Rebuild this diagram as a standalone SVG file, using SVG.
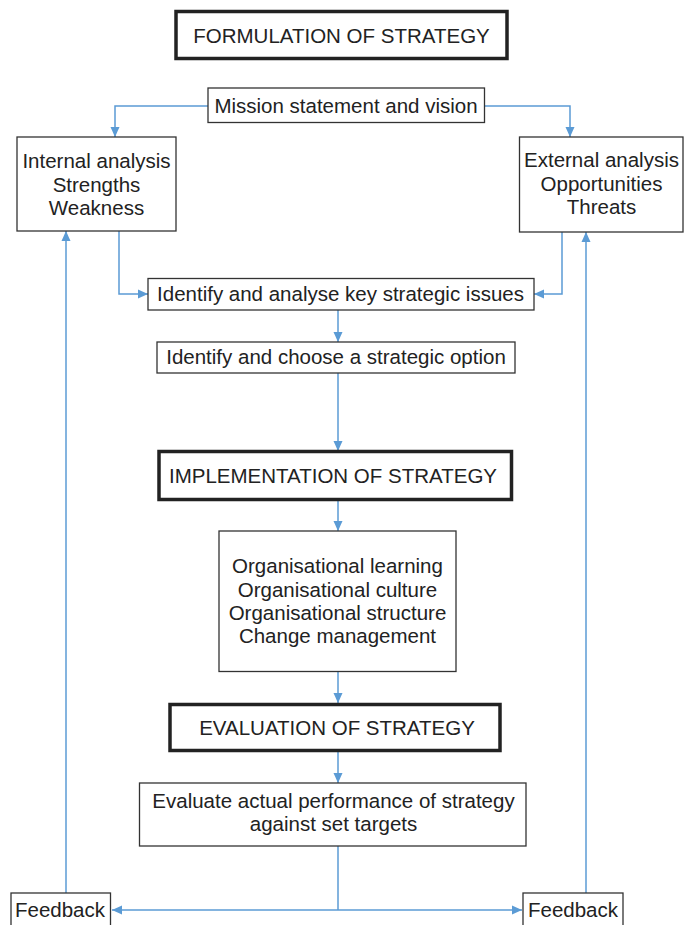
<svg xmlns="http://www.w3.org/2000/svg" width="684" height="925" viewBox="0 0 684 925">
<style>
.box{fill:#fff;stroke:#333;stroke-width:1.3}
.tbox{fill:#fff;stroke:#222;stroke-width:3.5}
text{font-family:"Liberation Sans",Arial,sans-serif;font-size:20.5px;fill:#222;text-anchor:middle}
.c{fill:none;stroke:#5b9bd5;stroke-width:1.5}
</style>
<defs>
<marker id="ah" markerUnits="userSpaceOnUse" markerWidth="10" markerHeight="10" refX="10" refY="5" orient="auto" viewBox="0 0 10 10">
<path d="M0,0.5 L10,5 L0,9.5 z" fill="#5b9bd5"/>
</marker>
</defs>
<rect width="684" height="925" fill="#fff"/>
<g id="connectors">
<path class="c" d="M208,106 H115 V137" marker-end="url(#ah)"/>
<path class="c" d="M484,106 H570 V137" marker-end="url(#ah)"/>
<path class="c" d="M119,231 V294 H148" marker-end="url(#ah)"/>
<path class="c" d="M562,232 V294 H534" marker-end="url(#ah)"/>
<path class="c" d="M338,310 V342" marker-end="url(#ah)"/>
<path class="c" d="M338,373 V451" marker-end="url(#ah)"/>
<path class="c" d="M338,501 V531" marker-end="url(#ah)"/>
<path class="c" d="M338,672 V703" marker-end="url(#ah)"/>
<path class="c" d="M338,752 V783" marker-end="url(#ah)"/>
<path class="c" d="M338,846 V910"/>
<path class="c" d="M338,910 H112" marker-end="url(#ah)"/>
<path class="c" d="M338,910 H522" marker-end="url(#ah)"/>
<path class="c" d="M66,893 V231" marker-end="url(#ah)"/>
<path class="c" d="M586,893 V232" marker-end="url(#ah)"/>
</g>
<g id="formulation">
<rect class="tbox" x="176" y="11.5" width="331" height="47"/>
<text x="341.5" y="43">FORMULATION OF STRATEGY</text>
</g>
<g id="mission">
<rect class="box" x="208" y="88" width="276.5" height="34.5"/>
<text x="346" y="113">Mission statement and vision</text>
</g>
<g id="internal">
<rect class="box" x="17" y="137" width="159" height="94"/>
<text x="96.5" y="168">Internal analysis</text>
<text x="96.5" y="191.5">Strengths</text>
<text x="96.5" y="215">Weakness</text>
</g>
<g id="external">
<rect class="box" x="519.5" y="137" width="163.5" height="95"/>
<text x="601.5" y="167">External analysis</text>
<text x="601.5" y="190.5">Opportunities</text>
<text x="601.5" y="214">Threats</text>
</g>
<g id="issues">
<rect class="box" x="148" y="278.5" width="386" height="31.5"/>
<text x="340.5" y="301">Identify and analyse key strategic issues</text>
</g>
<g id="option">
<rect class="box" x="157" y="342" width="358" height="31"/>
<text x="336" y="364">Identify and choose a strategic option</text>
</g>
<g id="implementation">
<rect class="tbox" x="159" y="451.5" width="352.5" height="48"/>
<text x="333" y="483">IMPLEMENTATION OF STRATEGY</text>
</g>
<g id="organisation">
<rect class="box" x="219" y="531" width="237" height="140.5"/>
<text x="337.5" y="573">Organisational learning</text>
<text x="337.5" y="596.5">Organisational culture</text>
<text x="337.5" y="620">Organisational structure</text>
<text x="337.5" y="643">Change management</text>
</g>
<g id="evaluation">
<rect class="tbox" x="170" y="704.5" width="330" height="46"/>
<text x="337" y="735">EVALUATION OF STRATEGY</text>
</g>
<g id="evaluate">
<rect class="box" x="139.5" y="783" width="386.5" height="63"/>
<text x="333.5" y="808">Evaluate actual performance of strategy</text>
<text x="333.5" y="831">against set targets</text>
</g>
<g id="feedback-left">
<rect class="box" x="11" y="893" width="99.5" height="34"/>
<text x="60" y="917">Feedback</text>
</g>
<g id="feedback-right">
<rect class="box" x="523" y="893" width="100" height="34"/>
<text x="573" y="917">Feedback</text>
</g>
</svg>
